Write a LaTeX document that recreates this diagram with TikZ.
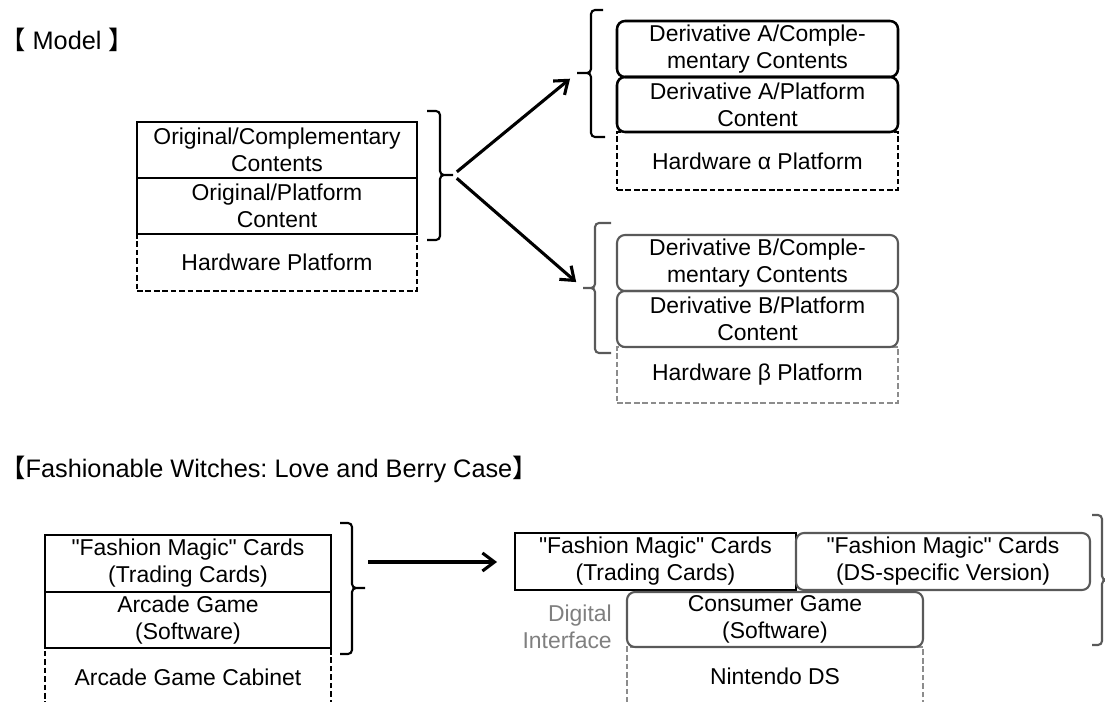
\documentclass[tikz,border=0pt]{standalone}
\usepackage{fontspec}
\setmainfont{Liberation Sans}[Ligatures=TeXOff]
\newfontfamily\cjk{Noto Sans CJK JP}
\usetikzlibrary{arrows.meta}
\definecolor{softgray}{HTML}{595959}
\definecolor{palegray}{HTML}{7F7F7F}
\definecolor{dashgray}{HTML}{8C8C8C}
\newlength\pu
\setlength\pu{0.025cm}
\newcommand\boxfont{\fontsize{16.3}{19.2}\selectfont}
\newcommand\titlefont{\fontsize{18}{21}\selectfont}
\frenchspacing

\begin{document}
\begin{tikzpicture}[
  x=1\pu, y=-1\pu,
  font=\boxfont,
  boxsize/.style 2 args={minimum width=#1\pu, minimum height=#2\pu},
  flatbox/.style={draw=black, line width=1.8pt, inner sep=0pt, align=center},
  roundbox/.style={draw=black, line width=1.8pt, rounded corners=8\pu, inner sep=0pt, align=center},
  greybox/.style={draw=softgray, line width=1.5pt, rounded corners=8\pu, inner sep=0pt, align=center},
  hwbox/.style={draw=black, line width=1.3pt, dash pattern=on 4pt off 2pt, inner sep=0pt, align=center},
  greyhw/.style={draw=dashgray, line width=1.3pt, dash pattern=on 4pt off 2pt, inner sep=0pt, align=center},
  brace/.style={draw=black, line width=1.5pt, rounded corners=4\pu},
  greybrace/.style={draw=softgray, line width=1.5pt, rounded corners=4\pu},
  bigarrow/.style={-{Straight Barb[length=3mm, width=4.5mm]}, line width=2.2pt},
  heading/.style={anchor=base west, inner sep=0pt, font=\titlefont},
]
\useasboundingbox (0,0) rectangle (1105,702);
\clip (0,0) rectangle (1105,702);

% ---- Model ----
\node[heading] (modeltitle) at (0,50) {{\cjk 【} Model {\cjk 】}};

% original stack
\node[hwbox, boxsize={280}{57}] (orighw) at (277,262.5) {Hardware Platform};
\node[flatbox, boxsize={280}{56}] (origcomp) at (277,150) {Original/Complementary\\Contents};
\node[flatbox, boxsize={280}{56}] (origplat) at (277,206) {Original/Platform\\Content};
\draw[brace] (427,111) -| (440,175) -- (453,175) (453,175) -| (440,240) -- (427,240);
\coordinate (origtip) at (453,175);

% derivative A
\node[hwbox, boxsize={281}{58}] (dahw) at (757.5,161) {Hardware α Platform};
\node[roundbox, boxsize={281}{56}] (dacomp) at (757.5,49) {Derivative A/Comple-\\mentary Contents};
\node[roundbox, boxsize={281}{55}] (daplat) at (757.5,104.5) {Derivative A/Platform\\Content};
\draw[brace] (603,10) -| (591,73) -- (577,73) (577,73) -| (591,137) -- (605,137);
\coordinate (atip) at (577,73);

% derivative B
\node[greyhw, boxsize={281}{56}] (dbhw) at (757.5,375) {Hardware β Platform};
\node[greybox, boxsize={281}{56}] (dbcomp) at (757.5,263) {Derivative B/Comple-\\mentary Contents};
\node[greybox, boxsize={281}{56}] (dbplat) at (757.5,319) {Derivative B/Platform\\Content};
\draw[greybrace] (611,223) -| (595,288) -- (583,288) (583,288) -| (595,353) -- (611,353);
\coordinate (btip) at (583,288);

\draw[bigarrow, shorten <=5\pu, shorten >=9\pu] (origtip) -- (atip);
\draw[bigarrow, shorten <=5\pu, shorten >=9\pu] (origtip) -- (btip);

% ---- Love and Berry case ----
\node[heading] (casetitle) at (0,477) {{\cjk 【}Fashionable Witches: Love and Berry Case{\cjk 】}};

% arcade side
\node[hwbox, boxsize={286}{58}] (cabinet) at (188,677) {Arcade Game Cabinet};
\node[flatbox, boxsize={286}{57}] (arccards) at (188,563.5) {"Fashion Magic" Cards\\(Trading Cards)};
\node[flatbox, boxsize={286}{56}] (arcgame) at (188,620) {Arcade Game\\ (Software)};
\draw[brace] (340,523) -| (352,588) -- (365,588) (365,588) -| (352,654) -- (340,654);

\coordinate (casefrom) at (368,562);
\coordinate (caseto) at (497,562);
\draw[bigarrow] (casefrom) -- (caseto);

% DS side
\node[greyhw, boxsize={296}{58}] (nds) at (775,676) {Nintendo DS};
\node[flatbox, boxsize={281}{57}] (dscards) at (655.5,561.5) {"Fashion Magic" Cards\\(Trading Cards)};
\node[greybox, boxsize={294}{57}] (dsspecial) at (943,561.5) {"Fashion Magic" Cards\\(DS-specific Version)};
\node[greybox, boxsize={296}{55}] (dsgame) at (775,619.5) {Consumer Game\\(Software)};
\node[anchor=east, inner sep=0pt, align=right, text=palegray] (digital) at (612,627) {Digital\\Interface};
\draw[greybrace] (1092,515) -| (1102,580) -- (1108,580) (1108,580) -| (1102,645) -- (1092,645);

\end{tikzpicture}
\end{document}
